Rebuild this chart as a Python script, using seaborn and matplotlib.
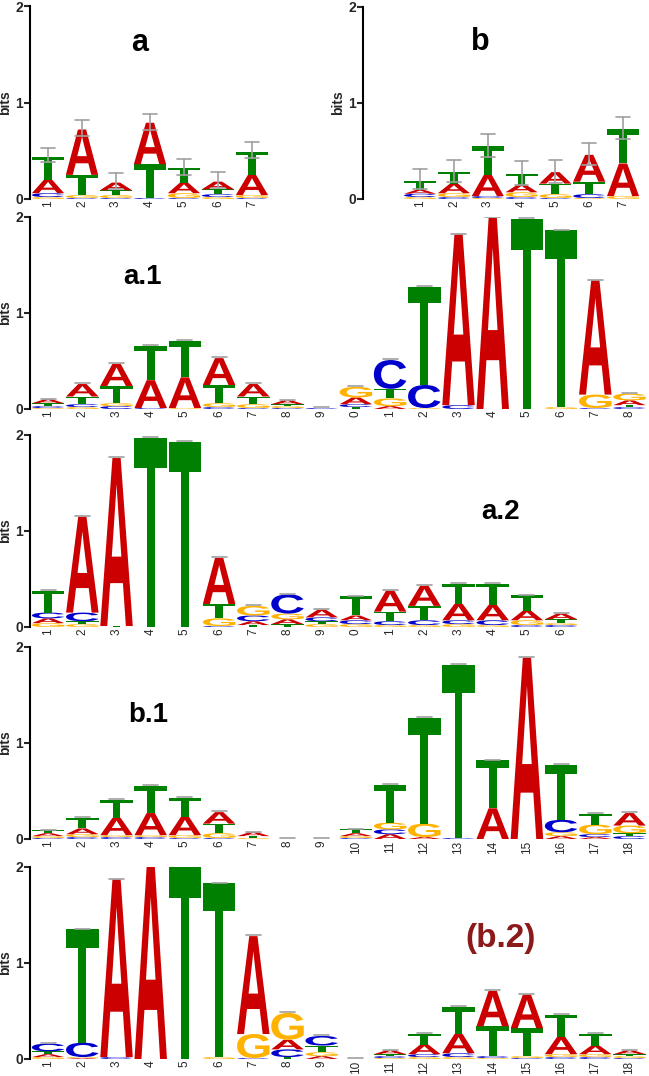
import numpy as np
import matplotlib
matplotlib.use("Agg")
import matplotlib.pyplot as plt
import matplotlib.transforms as mtrans
import seaborn as sns
from matplotlib.textpath import TextPath
from matplotlib.patches import PathPatch
from matplotlib.font_manager import FontProperties

sns.set_theme(style="white")
plt.rcParams["font.family"] = ["Liberation Sans", "DejaVu Sans"]

# letter colours (classic nucleotide scheme)
LETTERS = ["A", "C", "G", "T"]
COLORS = {"A": "#cc0000", "C": "#0000cc", "G": "#ffb300", "T": "#008000"}

# information content per position, (A, C, G, T) in bits
LOGO_A = [(0.14, 0.04, 0.02, 0.24), (0.47, 0.01, 0.03, 0.21), (0.08, 0.01, 0.03, 0.05),
          (0.43, 0.01, 0.00, 0.35), (0.11, 0.01, 0.05, 0.15), (0.08, 0.03, 0.02, 0.05),
          (0.21, 0.01, 0.03, 0.24)]
ERR_A = [(0.38, 0.53), (0.65, 0.82), (0.10, 0.27), (0.72, 0.88), (0.25, 0.41),
         (0.11, 0.28), (0.42, 0.59)]

LOGO_B = [(0.04, 0.035, 0.02, 0.09), (0.10, 0.02, 0.04, 0.12), (0.22, 0.02, 0.01, 0.30),
          (0.08, 0.02, 0.05, 0.11), (0.12, 0.01, 0.04, 0.11), (0.28, 0.04, 0.01, 0.13),
          (0.34, 0.00, 0.03, 0.36)]
ERR_B = [(0.10, 0.31), (0.18, 0.41), (0.44, 0.68), (0.15, 0.40), (0.17, 0.41),
         (0.35, 0.58), (0.62, 0.85)]

LOGO_A1 = [(0.04, 0.02, 0.01, 0.03), (0.13, 0.03, 0.02, 0.08), (0.23, 0.03, 0.03, 0.18),
           (0.29, 0.01, 0.00, 0.36), (0.32, 0.00, 0.01, 0.38), (0.28, 0.02, 0.04, 0.19),
           (0.13, 0.01, 0.04, 0.08), (0.04, 0.01, 0.02, 0.02), (0.00, 0.01, 0.00, 0.00),
           (0.07, 0.03, 0.11, 0.02), (0.03, 0.30, 0.08, 0.10), (0.00, 0.24, 0.01, 1.02),
           (1.78, 0.04, 0.00, 0.00), (1.99, 0.00, 0.00, 0.00), (0.00, 0.00, 0.00, 1.98),
           (0.00, 0.00, 0.02, 1.84), (1.19, 0.01, 0.14, 0.00), (0.05, 0.02, 0.07, 0.02)]

LOGO_A2 = [(0.05, 0.06, 0.04, 0.23), (1.00, 0.09, 0.03, 0.03), (1.75, 0.00, 0.00, 0.01),
           (0.00, 0.00, 0.00, 1.97), (0.00, 0.00, 0.00, 1.93), (0.48, 0.01, 0.08, 0.15),
           (0.04, 0.06, 0.10, 0.02), (0.05, 0.20, 0.06, 0.03), (0.08, 0.04, 0.03, 0.03),
           (0.05, 0.04, 0.03, 0.20), (0.22, 0.04, 0.02, 0.10), (0.21, 0.05, 0.02, 0.15),
           (0.17, 0.04, 0.03, 0.21), (0.16, 0.05, 0.02, 0.22), (0.10, 0.02, 0.05, 0.16),
           (0.06, 0.02, 0.02, 0.04)]

LOGO_B1 = [(0.03, 0.01, 0.02, 0.03), (0.06, 0.02, 0.03, 0.11), (0.18, 0.02, 0.02, 0.19),
           (0.23, 0.02, 0.02, 0.28), (0.19, 0.01, 0.03, 0.20), (0.12, 0.01, 0.05, 0.10),
           (0.04, 0.00, 0.01, 0.02), (0.00, 0.00, 0.00, 0.00), (0.00, 0.00, 0.00, 0.00),
           (0.03, 0.01, 0.02, 0.04), (0.05, 0.05, 0.07, 0.39), (0.02, 0.00, 0.14, 1.10),
           (0.00, 0.01, 0.00, 1.80), (0.32, 0.00, 0.00, 0.50), (1.89, 0.00, 0.00, 0.00),
           (0.03, 0.13, 0.04, 0.57), (0.02, 0.03, 0.10, 0.11), (0.13, 0.03, 0.08, 0.03)]

LOGO_B2 = [(0.03, 0.08, 0.02, 0.03), (0.01, 0.15, 0.01, 1.18), (1.85, 0.02, 0.00, 0.00),
           (2.00, 0.00, 0.00, 0.00), (0.00, 0.00, 0.00, 2.00), (0.00, 0.00, 0.02, 1.81),
           (1.02, 0.01, 0.25, 0.00), (0.10, 0.08, 0.28, 0.02), (0.03, 0.10, 0.04, 0.07),
           (0.00, 0.00, 0.00, 0.00), (0.04, 0.02, 0.01, 0.02), (0.10, 0.03, 0.02, 0.11),
           (0.20, 0.04, 0.02, 0.28), (0.37, 0.02, 0.01, 0.31), (0.35, 0.01, 0.02, 0.29),
           (0.18, 0.02, 0.03, 0.23), (0.09, 0.02, 0.03, 0.12), (0.04, 0.01, 0.02, 0.02)]

TICKS_7 = [str(i) for i in range(1, 8)]
TICKS_LAST_DIGIT = [str(i % 10) for i in range(1, 19)]
TICKS_18 = [str(i) for i in range(1, 19)]

W, H = 649, 1076
LETTER_FP = FontProperties(family="Liberation Sans", weight="bold")


def draw_letter(ax, letter, x, y, w, h):
    if h <= 0:
        return
    tp = TextPath((0, 0), letter, size=1, prop=LETTER_FP)
    bb = tp.get_extents()
    t = (mtrans.Affine2D().translate(-bb.x0, -bb.y0)
         .scale(w / bb.width, h / bb.height).translate(x - w / 2, y))
    ax.add_patch(PathPatch(t.transform_path(tp), fc=COLORS[letter], ec="none", lw=0))


def make_panel(left, right, y2, y0, xlim, logo, labels, title, title_xy,
               title_size=20, title_color="black", err=None):
    ax = plt.gcf().add_axes([left / W, 1 - y0 / H, (right - left) / W, (y0 - y2) / H])
    ax.patch.set_alpha(0)
    for i, col in enumerate(logo):
        x = i + 1
        order = sorted(zip(col, LETTERS))
        base = 0.0
        for h, letter in order:
            draw_letter(ax, letter, x, base, 0.95, h)
            base += h
        if err is not None:
            lo, hi = err[i]
            ax.plot([x, x], [lo, hi], color="#a0a0a0", lw=1.2)
            ax.plot([x - 0.2, x + 0.2], [hi, hi], color="#a0a0a0", lw=1.2)
            ax.plot([x - 0.2, x + 0.2], [lo, lo], color="#a0a0a0", lw=1.2)
        else:
            ax.plot([x - 0.22, x + 0.22], [base + 0.008, base + 0.008], color="#a0a0a0", lw=1.2)
    ax.set_xlim(*xlim)
    ax.set_ylim(0, 2)
    ax.set_yticks([0, 1, 2])
    ax.set_yticklabels(["0", "1", "2"], fontsize=10, fontweight="bold")
    ax.set_xticks(range(1, len(labels) + 1))
    ax.set_xticklabels(labels, rotation=90, fontsize=8.5)
    ax.tick_params(axis="y", direction="out", length=4, width=1.5, pad=1, left=True)
    ax.tick_params(axis="x", length=0, pad=1)
    ax.set_ylabel("bits", fontsize=10, fontweight="bold", labelpad=2)
    sns.despine(ax=ax, bottom=True)
    ax.spines["left"].set_linewidth(1.5)
    ax.spines["left"].set_color("black")
    ax.grid(False)
    plt.gcf().text(title_xy[0] / W, 1 - title_xy[1] / H, title, fontsize=title_size,
                   fontweight="bold", color=title_color, ha="center", va="center")
    return ax


fig = plt.figure(figsize=(W / 100, H / 100), dpi=100)
fig.patch.set_facecolor("white")

make_panel(30, 272, 6, 199, (0.47, 7.59), LOGO_A, TICKS_7, "a", (140, 43),
           title_size=22, err=ERR_A)
make_panel(363, 645, 7, 199, (-0.69, 7.65), LOGO_B, TICKS_7, "b", (480, 42),
           title_size=22, err=ERR_B)
make_panel(30, 649, 217, 409, (0.47, 18.57), LOGO_A1, TICKS_LAST_DIGIT, "a.1", (142, 277))
make_panel(30, 649, 435, 627, (0.47, 18.57), LOGO_A2, TICKS_LAST_DIGIT[:16], "a.2", (501, 512))
make_panel(30, 649, 647, 839, (0.47, 18.57), LOGO_B1, TICKS_18, "b.1", (148, 715))
make_panel(30, 649, 867, 1059, (0.47, 18.57), LOGO_B2, TICKS_18, "(b.2)", (501, 939),
           title_size=24, title_color="#8b1a1a")

fig.savefig("out.png", dpi=100, facecolor="white")
